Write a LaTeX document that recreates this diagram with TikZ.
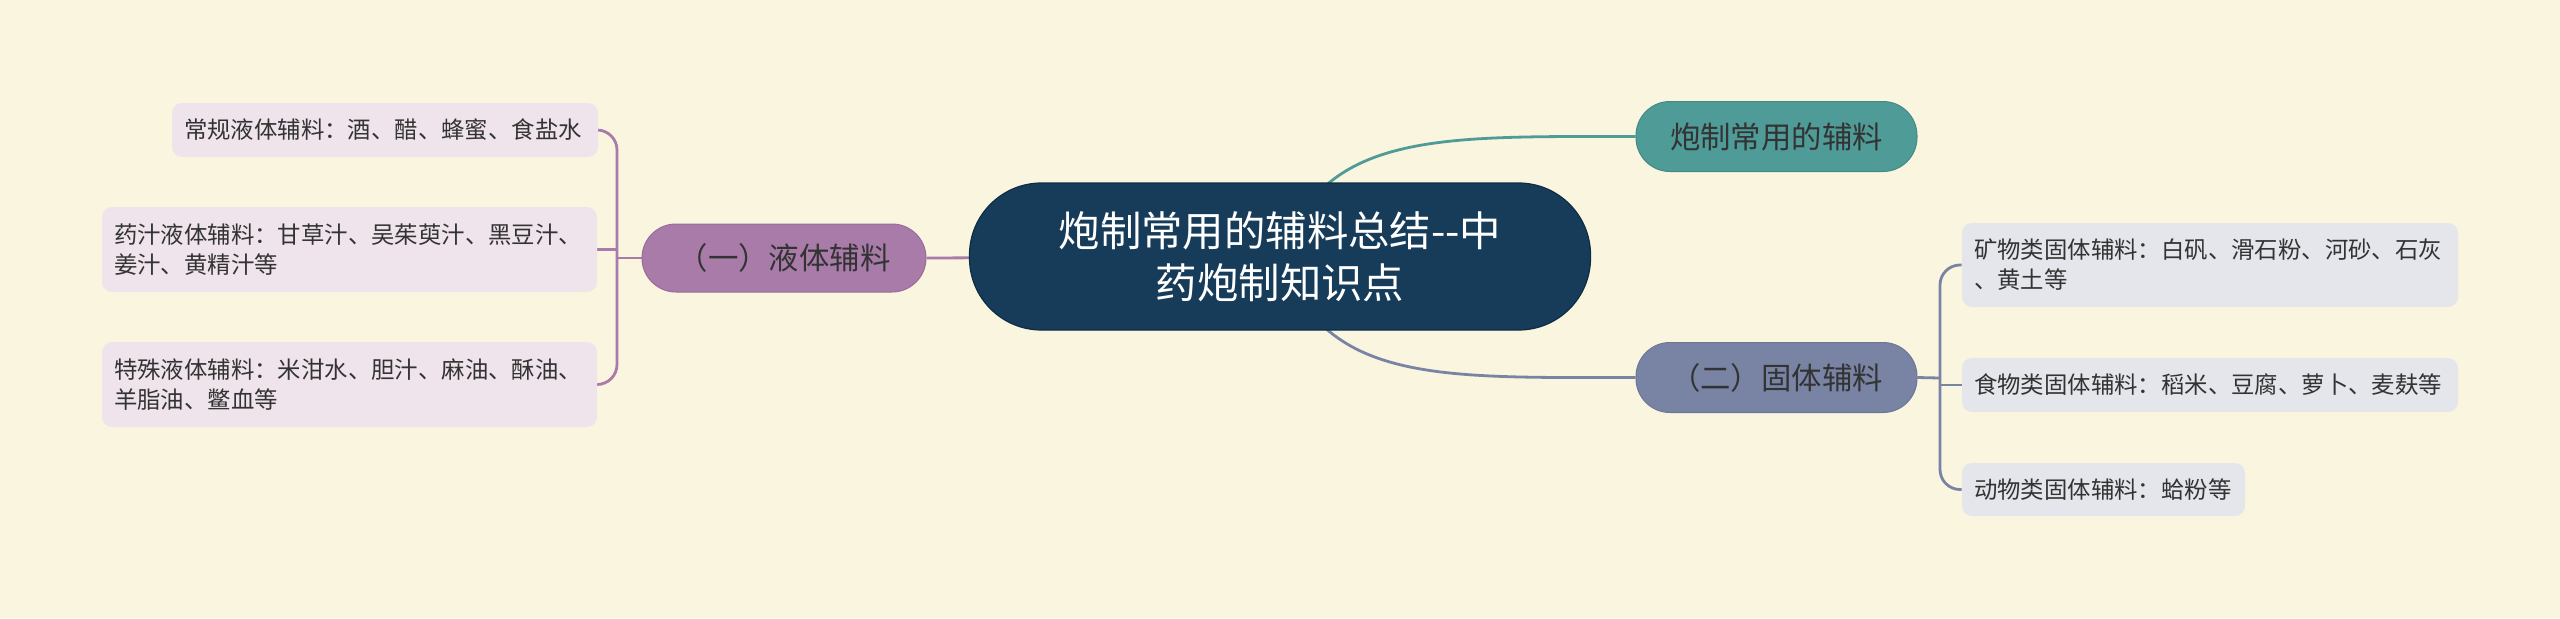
\documentclass[tikz,border=0pt]{standalone}
\usepackage{fontspec}
\setmainfont{Noto Sans CJK SC}
\usepackage{xcolor}
\definecolor{cream}{HTML}{FAF5DF}
\definecolor{rootc}{HTML}{163C5A}
\definecolor{rootb}{HTML}{0E2C44}
\definecolor{tealc}{HTML}{4E9B98}
\definecolor{tealb}{HTML}{438A87}
\definecolor{slatec}{HTML}{7984A5}
\definecolor{slateb}{HTML}{6C7797}
\definecolor{plumc}{HTML}{A87BA9}
\definecolor{plumb}{HTML}{986C99}
\definecolor{plumleaf}{HTML}{EFE4EB}
\definecolor{slateleaf}{HTML}{E4E6EC}
\definecolor{txt}{HTML}{333333}
\pgfdeclarelayer{bg}
\pgfsetlayers{bg,main}
\begin{document}
\begin{tikzpicture}[x=0.5pt,y=-0.5pt,
        root/.style={fill=rootc,draw=rootb,line width=.6pt,rounded corners=36pt,minimum width=310.5pt,minimum height=73.5pt,align=center,text=white,font=\fontsize{20.7}{26}\selectfont},
        sub/.style={line width=.5pt,rounded corners=17pt,minimum width=140.5pt,minimum height=35pt,text=txt,font=\fontsize{15.2}{18}\selectfont},
        leaf/.style={rounded corners=5pt,inner xsep=6pt,inner ysep=0pt,align=left,text=txt,font=\fontsize{11.7}{15}\selectfont},
        link/.style={line width=1.4pt}]
        \useasboundingbox (0,0) rectangle (2560,618);
        \node[root] (R) at (1280,256.5) {炮制常用的辅料总结{-}\kern0pt{-}中\\药炮制知识点};%root
        \node[sub,fill=tealc,draw=tealb] (P) at (1776.5,136.5) {炮制常用的辅料};%paozhi
        \node[sub,fill=slatec,draw=slateb] (G) at (1776.5,377.5) {（二）固体辅料};%guti
        \node[sub,fill=plumc,draw=plumb,minimum width=142pt,minimum height=34pt] (Y) at (784,258) {（一）液体辅料};%yeti
        \node[leaf,fill=plumleaf,text width=201pt,minimum height=27pt] (Y1) at (385,130) {常规液体辅料：酒、醋、蜂蜜、食盐水};%y1
        \node[leaf,fill=plumleaf,text width=235.5pt,minimum height=42.5pt] (Y2) at (349.5,249.5) {药汁液体辅料：甘草汁、吴茱萸汁、黑豆汁、\\姜汁、黄精汁等};%y2
        \node[leaf,fill=plumleaf,text width=235.5pt,minimum height=42.5pt] (Y3) at (349.5,384.5) {特殊液体辅料：米泔水、胆汁、麻油、酥油、\\羊脂油、鳖血等};%y3
        \node[leaf,fill=slateleaf,text width=236pt,minimum height=42pt] (G1) at (2210,265) {矿物类固体辅料：白矾、滑石粉、河砂、石灰\\、黄土等};%g1
        \node[leaf,fill=slateleaf,text width=236pt,minimum height=27pt] (G2) at (2210,385) {食物类固体辅料：稻米、豆腐、萝卜、麦麸等};%g2
        \node[leaf,fill=slateleaf,text width=129.5pt,minimum height=26.5pt] (G3) at (2103.5,489.5) {动物类固体辅料：蛤粉等};%g3
        \coordinate (YB) at (617,258);%ybar
        \coordinate (GB) at (1940,378);%gbar
        \begin{pgfonlayer}{bg}
        \fill[cream] (0,0) rectangle (2560,618);
        \draw[link,tealc] (R.center) .. controls +(45,-125) and +(-200,0) .. (P.west);
        \draw[link,slatec] (R.center) .. controls +(45,127) and +(-200,0) .. (G.west);
        \draw[link,plumc] (R.center)--(Y.east);
        \draw[link,plumc] (Y.west)--(YB);
        \draw[link,plumc,rounded corners=10pt] (Y1.east) -| (YB) |- (Y3.east);
        \draw[link,plumc] (Y2.east)--(Y2.east -| YB);
        \draw[link,slatec] (G.east)--(GB);
        \draw[link,slatec,rounded corners=10pt] (G1.west) -| (GB) |- (G3.west);
        \draw[link,slatec] (G2.west)--(G2.west -| GB);
        \end{pgfonlayer}
\end{tikzpicture}
\end{document}
